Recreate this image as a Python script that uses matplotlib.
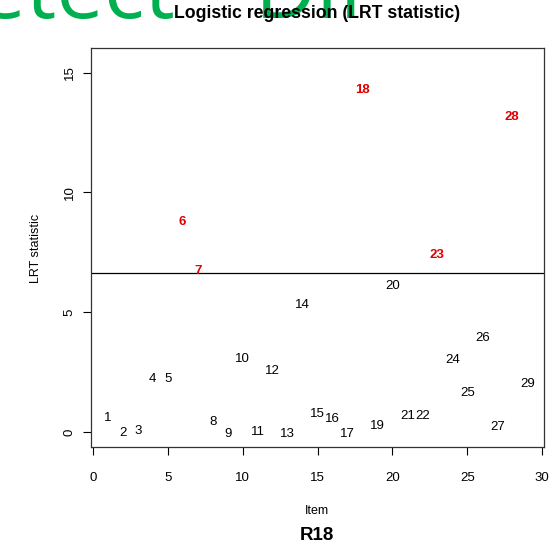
import matplotlib
matplotlib.use('Agg')
import matplotlib.pyplot as plt

plt.rcParams['font.family'] = ['Liberation Sans', 'DejaVu Sans']

# LRT statistic per item
items = list(range(1, 30))
lrt = [0.73, 0.12, 0.20, 2.38, 2.35, 8.92, 6.87, 0.57, 0.05, 3.19,
       0.15, 2.70, 0.06, 5.44, 0.89, 0.71, 0.05, 14.41, 0.40, 6.23,
       0.82, 0.82, 7.52, 3.15, 1.77, 4.06, 0.38, 13.28, 2.14]
dif_items = [6, 7, 18, 23, 28]
threshold = 6.635

fig = plt.figure(figsize=(5.6, 5.47), dpi=100)

# watermark in the top corner, behind everything else
wm = dict(fontsize=61, color='#00B050', family='Open Sans',
          va='baseline', ha='left', zorder=0)
fig.text(-82 / 560, 1 - 18 / 547, 'Detect', **wm)
fig.text(255 / 560, 1 - 18 / 547, 'DIF', **wm)

ax = fig.add_axes([91 / 560, 1 - 447 / 547, 453 / 560, 399 / 547])
ax.patch.set_alpha(0)

ymax = max(lrt + [threshold]) + 1
ax.set_xlim(1 - 0.04 * 28, 29 + 0.04 * 28)
ax.set_ylim(-0.04 * ymax, ymax * 1.04)

for i, v in zip(items, lrt):
    if i in dif_items:
        ax.annotate(str(i), (i, v), xytext=(0, -2.5), textcoords='offset points',
                    ha='center', va='center', fontsize=9.5, color='#E00000',
                    fontweight='bold')
    else:
        ax.annotate(str(i), (i, v), xytext=(0, -2.5), textcoords='offset points',
                    ha='center', va='center', fontsize=9.5, color='black')

ax.axhline(threshold, color='black', lw=0.9)

ax.set_xticks([0, 5, 10, 15, 20, 25, 30])
ax.set_yticks([0, 5, 10, 15])
ax.tick_params(direction='out', length=6, width=0.8, labelsize=9.5)
ax.tick_params(axis='x', pad=12)
ax.tick_params(axis='y', pad=5)
for lab in ax.get_yticklabels():
    lab.set_rotation(90)
    lab.set_va('center')
for s in ax.spines.values():
    s.set_linewidth(0.9)
    s.set_color('#333333')

fig.text(36 / 560, 1 - 248 / 547, 'LRT statistic', rotation=90,
         ha='center', va='center', fontsize=9)
fig.text(317 / 560, 1 - 511 / 547, 'Item', ha='center', va='center', fontsize=9)
fig.text(317 / 560, 1 - 14 / 547, 'Logistic regression (LRT statistic)',
         ha='center', va='center', fontsize=12.7, fontweight='bold', zorder=5)
fig.text(317 / 560, 1 - 536 / 547, 'R18', ha='center', va='center',
         fontsize=13.5, fontweight='bold')

fig.savefig('out.png', dpi=100)
